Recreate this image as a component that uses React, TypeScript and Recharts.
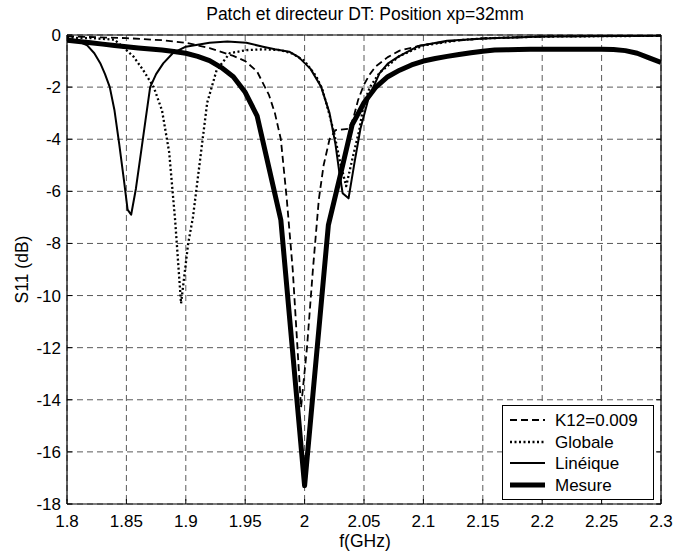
import React from 'react';
import { LineChart, Line, XAxis, YAxis, CartesianGrid } from 'recharts';

const FONT = '"Liberation Sans", Arial, Helvetica, sans-serif';

// Frequency axis ticks (GHz) and S11 ticks (dB)
const X_TICKS = [1.8, 1.85, 1.9, 1.95, 2, 2.05, 2.1, 2.15, 2.2, 2.25, 2.3];
const Y_TICKS = [-18, -16, -14, -12, -10, -8, -6, -4, -2, 0];

// Model K12=0.009
const fK12 = [1.8, 1.85, 1.88, 1.9, 1.92, 1.94, 1.95, 1.96, 1.97, 1.975, 1.98, 1.985, 1.99, 1.994, 1.997, 2.002, 2.007, 2.012, 2.016, 2.021, 2.026, 2.037, 2.041, 2.045, 2.05, 2.055, 2.06, 2.07, 2.08, 2.1, 2.12, 2.15, 2.2, 2.25, 2.3];
const sK12 = [-0.05, -0.12, -0.2, -0.3, -0.5, -0.8, -1.0, -1.4, -2.3, -3.0, -4.0, -6.3, -9.0, -12.0, -14.3, -12.0, -9.0, -6.3, -5.0, -4.0, -3.65, -3.6, -3.2, -2.5, -1.9, -1.5, -1.2, -0.85, -0.6, -0.38, -0.25, -0.13, -0.06, -0.04, -0.03];

// Model "Globale"
const fGl = [1.8, 1.82, 1.84, 1.848, 1.856, 1.864, 1.873, 1.88, 1.886, 1.891, 1.896, 1.902, 1.906, 1.912, 1.918, 1.926, 1.937, 1.951, 1.965, 1.98, 1.99, 2.0, 2.01, 2.015, 2.02, 2.025, 2.03, 2.035, 2.04, 2.046, 2.05, 2.055, 2.063, 2.08, 2.1, 2.13, 2.15, 2.2, 2.3];
const sGl = [-0.1, -0.12, -0.18, -0.5, -0.83, -1.34, -2.0, -2.9, -4.5, -7.1, -10.3, -8.0, -7.0, -4.8, -2.6, -1.34, -0.7, -0.58, -0.55, -0.58, -0.72, -1.0, -1.6, -2.1, -2.9, -3.8, -4.9, -5.8, -4.8, -3.65, -2.6, -2.0, -1.45, -0.8, -0.4, -0.2, -0.13, -0.06, -0.03];

// Model "Linéique"
const fLi = [1.8, 1.81, 1.817, 1.823, 1.828, 1.832, 1.836, 1.84, 1.844, 1.848, 1.851, 1.854, 1.858, 1.862, 1.866, 1.87, 1.875, 1.881, 1.889, 1.9, 1.92, 1.935, 1.951, 1.965, 1.975, 1.987, 1.995, 2.005, 2.014, 2.021, 2.026, 2.029, 2.032, 2.037, 2.042, 2.047, 2.054, 2.063, 2.07, 2.079, 2.096, 2.12, 2.152, 2.2, 2.3];
const sLi = [-0.12, -0.25, -0.4, -0.7, -1.08, -1.5, -2.0, -2.9, -4.2, -5.6, -6.7, -6.9, -5.9, -4.6, -3.3, -2.0, -1.5, -1.09, -0.7, -0.45, -0.3, -0.25, -0.3, -0.45, -0.55, -0.64, -0.85, -1.3, -2.0, -3.0, -4.2, -5.2, -6.07, -6.27, -4.9, -3.6, -2.4, -1.47, -1.1, -0.83, -0.42, -0.22, -0.13, -0.06, -0.03];

// Measurement
const fMe = [1.8, 1.81, 1.82, 1.83, 1.84, 1.85, 1.86, 1.87, 1.88, 1.89, 1.9, 1.91, 1.92, 1.93, 1.94, 1.95, 1.96, 1.97, 1.98, 1.99, 2.0, 2.01, 2.02, 2.03, 2.04, 2.05, 2.06, 2.07, 2.08, 2.09, 2.1, 2.11, 2.12, 2.13, 2.14, 2.15, 2.16, 2.17, 2.18, 2.19, 2.2, 2.21, 2.22, 2.23, 2.24, 2.25, 2.26, 2.27, 2.28, 2.29, 2.3];
const sMe = [-0.2, -0.25, -0.3, -0.35, -0.4, -0.45, -0.5, -0.54, -0.58, -0.63, -0.7, -0.82, -0.98, -1.25, -1.6, -2.2, -3.1, -5.1, -7.1, -12.2, -17.3, -12.3, -7.3, -5.4, -3.45, -2.6, -2.0, -1.6, -1.35, -1.15, -1.0, -0.9, -0.82, -0.75, -0.68, -0.62, -0.58, -0.57, -0.56, -0.55, -0.55, -0.55, -0.55, -0.55, -0.55, -0.55, -0.56, -0.6, -0.7, -0.88, -1.05];

const zip = (f: number[], s: number[]) => f.map((x, i) => ({ f: x, s: s[i] }));

const SERIES = [
  { name: 'K12=0.009', data: zip(fK12, sK12), width: 1.8, dash: '7 4' },
  { name: 'Globale', data: zip(fGl, sGl), width: 2.3, dash: '2 2.5' },
  { name: 'Linéique', data: zip(fLi, sLi), width: 2, dash: undefined as string | undefined },
  { name: 'Mesure', data: zip(fMe, sMe), width: 5, dash: undefined as string | undefined },
];

const W = 677;
const H = 555;
const PLOT = { left: 67, right: 663, top: 35, bottom: 504 };
const X_AXIS_H = 30;
const TOP_AXIS_H = 2;

const fmt = (v: number) => String(parseFloat(v.toFixed(2)));

const BottomTick = (p: any) => (
  <g>
    <line x1={p.x} x2={p.x} y1={p.y} y2={p.y - 5} stroke="#000" />
    <text x={p.x} y={p.y + 23} textAnchor="middle" fontSize={17} fontFamily={FONT} fill="#000">
      {fmt(p.payload.value)}
    </text>
  </g>
);

const TopTick = (p: any) => (
  <line x1={p.x} x2={p.x} y1={p.y} y2={p.y + 5} stroke="#000" />
);

const LeftTick = (p: any) => (
  <g>
    <line x1={p.x} x2={p.x + 5} y1={p.y} y2={p.y} stroke="#000" />
    <text x={p.x - 6} y={p.y + 6} textAnchor="end" fontSize={17} fontFamily={FONT} fill="#000">
      {fmt(p.payload.value)}
    </text>
  </g>
);

const RightTick = (p: any) => (
  <line x1={p.x} x2={p.x - 5} y1={p.y} y2={p.y} stroke="#000" />
);

function LegendBox() {
  const x0 = 502;
  const y0 = 405;
  const rows = [15, 37, 58, 80];
  return (
    <g>
      <rect x={x0 + 0.5} y={y0 + 0.5} width={151} height={94} fill="#fff" stroke="#000" strokeWidth={1} />
      {SERIES.map((s, i) => (
        <g key={s.name}>
          <line
            x1={x0 + 8}
            x2={x0 + 43}
            y1={y0 + rows[i]}
            y2={y0 + rows[i]}
            stroke="#000"
            strokeWidth={s.width}
            strokeDasharray={s.dash}
          />
          <text x={x0 + 53} y={y0 + rows[i] + 6} fontSize={17} fontFamily={FONT} fill="#000">
            {s.name}
          </text>
        </g>
      ))}
    </g>
  );
}

export default function App() {
  return (
    <div style={{ position: 'absolute', left: 0, top: 0, width: W, height: H, background: '#fff' }}>
      <LineChart
        width={W}
        height={H}
        margin={{
          top: PLOT.top - TOP_AXIS_H,
          right: W - PLOT.right,
          bottom: H - PLOT.bottom - X_AXIS_H,
          left: PLOT.left - 60,
        }}
      >
        <CartesianGrid stroke="#5a5a5a" strokeDasharray="6 4" strokeWidth={1} />
        <XAxis
          type="number"
          dataKey="f"
          domain={[1.8, 2.3]}
          ticks={X_TICKS}
          interval={0}
          allowDataOverflow
          height={X_AXIS_H}
          tickSize={0}
          tickMargin={0}
          tickLine={false}
          axisLine={{ stroke: '#000', strokeWidth: 1.2 }}
          tick={BottomTick}
        />
        <XAxis
          xAxisId="top"
          orientation="top"
          type="number"
          domain={[1.8, 2.3]}
          ticks={X_TICKS}
          interval={0}
          allowDataOverflow
          height={TOP_AXIS_H}
          tickSize={0}
          tickMargin={0}
          tickLine={false}
          axisLine={{ stroke: '#000', strokeWidth: 1.2 }}
          tick={TopTick}
        />
        <YAxis
          type="number"
          domain={[-18, 0]}
          ticks={Y_TICKS}
          interval={0}
          allowDataOverflow
          width={60}
          tickSize={0}
          tickMargin={0}
          tickLine={false}
          axisLine={{ stroke: '#000', strokeWidth: 1.2 }}
          tick={LeftTick}
        />
        <YAxis
          yAxisId="right"
          orientation="right"
          type="number"
          domain={[-18, 0]}
          ticks={Y_TICKS}
          interval={0}
          allowDataOverflow
          width={2}
          tickSize={0}
          tickMargin={0}
          tickLine={false}
          axisLine={{ stroke: '#000', strokeWidth: 1.2 }}
          tick={RightTick}
        />
        {SERIES.map((s) => (
          <Line
            key={s.name}
            name={s.name}
            data={s.data}
            dataKey="s"
            type="linear"
            stroke="#000"
            strokeWidth={s.width}
            strokeDasharray={s.dash}
            strokeLinejoin="round"
            dot={false}
            activeDot={false}
            isAnimationActive={false}
          />
        ))}
      </LineChart>
      <svg
        width={W}
        height={H}
        style={{ position: 'absolute', left: 0, top: 0, pointerEvents: 'none' }}
      >
        <text x={365} y={20} textAnchor="middle" fontSize={17.5} fontFamily={FONT} fill="#000">
          Patch et directeur DT: Position xp=32mm
        </text>
        <text x={365} y={547} textAnchor="middle" fontSize={17.5} fontFamily={FONT} fill="#000">
          f(GHz)
        </text>
        <text
          x={0}
          y={0}
          transform="translate(28,269.5) rotate(-90)"
          textAnchor="middle"
          fontSize={17.5}
          fontFamily={FONT}
          fill="#000"
        >
          S11 (dB)
        </text>
        <LegendBox />
      </svg>
    </div>
  );
}
